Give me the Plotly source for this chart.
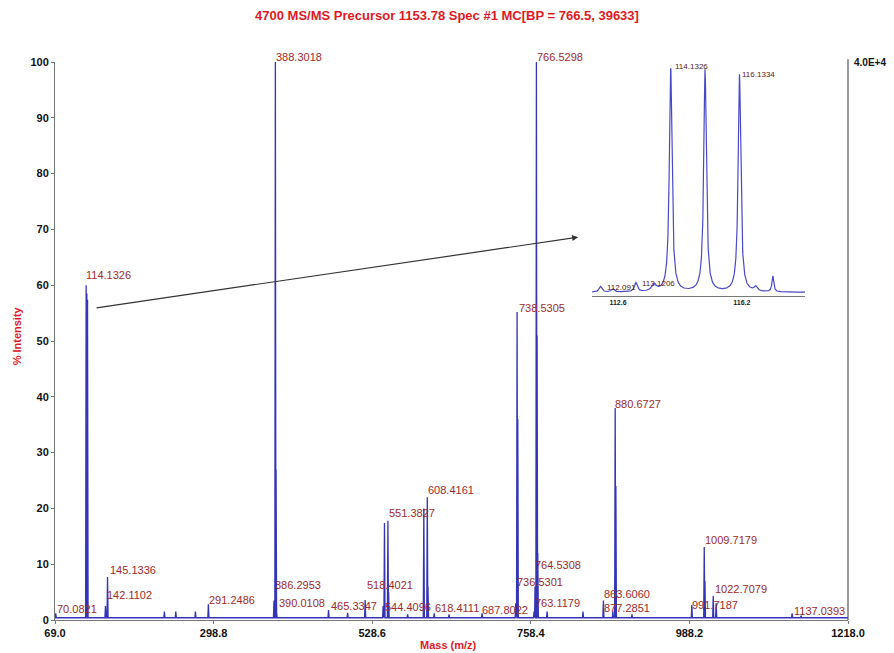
import numpy as np
import plotly.graph_objects as go

# ---------------- data ----------------
title_text = "4700 MS/MS Precursor 1153.78 Spec #1 MC[BP = 766.5, 39633]"

main_mz = [70.08, 114.13, 115.13, 116.13, 142.11, 145.13, 227.5, 244.0, 272.5, 291.25,
           386.30, 388.30, 389.30, 390.01, 465.33, 493.0, 518.40, 544.41, 546.4, 551.38,
           552.38, 580.0, 603.4, 608.42, 609.42, 618.41, 640.0, 687.80, 736.53, 738.53,
           739.53, 763.12, 764.53, 766.53, 767.53, 768.53, 782.0, 834.0, 863.61, 877.29,
           880.67, 881.67, 905.0, 991.72, 1009.72, 1010.72, 1022.71, 1027.0, 1137.04, 1150.0]
main_int = [1.2, 60, 58.5, 57.4, 2.5, 7.7, 1.5, 1.5, 1.5, 2.8,
            3.5, 100, 27, 1.5, 1.8, 1.3, 3.6, 2.5, 17.4, 17.8,
            5, 1, 20, 22, 6, 1.2, 1, 1.2, 3, 55.2,
            36, 1.5, 6, 100, 51, 12, 1.5, 1.5, 3.5, 1.5,
            38, 24, 1, 2.7, 13.1, 7, 4.3, 3, 1.2, 0.8]

# peak labels: text, anchor m/z (left edge), anchor % intensity (vertical centre)
label_text = ["388.3018", "766.5298", "114.1326", "738.5305", "880.6727", "608.4161",
              "551.3827", "1009.7179", "145.1336", "764.5308", "1022.7079", "386.2953",
              "518.4021", "736.5301", "863.6060", "142.1102", "291.2486", "390.0108",
              "465.3347", "544.4096", "618.4111", "687.8022", "763.1179", "877.2851",
              "991.7187", "1137.0393", "70.0821"]
label_x = [386.3, 764.6, 111.0, 738.5, 877.6, 606.6,
           550.0, 1008.0, 145.8, 761.6, 1022.5, 384.9,
           518.2, 735.6, 861.6, 141.5, 289.3, 390.7,
           466.0, 544.3, 616.7, 684.9, 761.6, 861.6,
           989.2, 1137.0, 69.5]
label_y = [100.9, 100.9, 61.8, 55.9, 38.7, 23.3,
           19.2, 14.3, 9.0, 9.9, 5.6, 6.3,
           6.3, 6.8, 4.7, 4.5, 3.6, 3.0,
           2.5, 2.3, 2.2, 1.8, 3.0, 2.2,
           2.7, 1.6, 2.0]

x_tickvals = [69.0, 298.8, 528.6, 758.4, 988.2, 1218.0]
y_tickvals = [0, 10, 20, 30, 40, 50, 60, 70, 80, 90, 100]

# inset (zoom on 112-118)
inset_mz = [112.09, 112.45, 113.12, 113.65, 114.13, 115.13, 116.13, 116.6, 117.1]
inset_int = [2.5, 1.5, 4.0, 3.0, 100, 97.8, 95.6, 2.0, 7.0]
inset_width = [0.05, 0.05, 0.05, 0.08, 0.045, 0.045, 0.045, 0.05, 0.03]
inset_labels = ["114.1326", "116.1334", "112.091", "113.1206"]
inset_label_x = [114.2, 116.15, 112.22, 113.24]
inset_label_y = [100.9, 97.4, 3.5, 5.3]
inset_ticks = [112.6, 116.2]

# arrow from main peak to inset (m/z, %)
arrow_tail = (127.0, 55.9)
arrow_head = (827.0, 68.6)

# ---------------- build ----------------
BASE = 0.4
HALF_W = 0.8
PX_PER_PCT_MAIN = 5.58
PX_PER_PCT_INSET = 2.28
xs, ys = [69.0], [BASE]
for m, h in sorted(zip(main_mz, main_int)):
    xs += [m - HALF_W, m, m + HALF_W]
    ys += [BASE, h, BASE]
xs.append(1218.0)
ys.append(BASE)

gx = np.linspace(111.84, 118.04, 1500)
gy = np.full_like(gx, 1.5)
for m, h, w in zip(inset_mz, inset_int, inset_width):
    gy = gy + h * w ** 2 / ((gx - m) ** 2 + w ** 2)

LINE_BLUE = "#3434B8"
LABEL_RED = "#9E2A2B"
TITLE_RED = "#E0191F"

fig = go.Figure()
fig.add_trace(go.Scatter(x=xs, y=ys, mode="lines",
                         line=dict(color=LINE_BLUE, width=1.3),
                         hoverinfo="skip", showlegend=False))
fig.add_trace(go.Scatter(x=gx, y=gy, mode="lines", xaxis="x2", yaxis="y2",
                         line=dict(color="#4848C8", width=1.2),
                         hoverinfo="skip", showlegend=False))

annotations = []
for t, lx, ly in zip(label_text, label_x, label_y):
    annotations.append(dict(x=lx, y=min(ly, 100), yshift=max(ly - 100, 0) * PX_PER_PCT_MAIN,
                            xref="x", yref="y", text=t, showarrow=False,
                            xanchor="left", yanchor="middle",
                            font=dict(family="Arial", size=11, color=LABEL_RED)))
for t, lx, ly in zip(inset_labels, inset_label_x, inset_label_y):
    annotations.append(dict(x=lx, y=min(ly, 100), yshift=max(ly - 100, 0) * PX_PER_PCT_INSET,
                            xref="x2", yref="y2", text=t, showarrow=False,
                            xanchor="left", yanchor="middle",
                            font=dict(family="Arial", size=8, color="#5a2020")))
annotations.append(dict(x=arrow_head[0], y=arrow_head[1], ax=arrow_tail[0], ay=arrow_tail[1],
                        xref="x", yref="y", axref="x", ayref="y", text="",
                        showarrow=True, arrowhead=2, arrowsize=1, arrowwidth=1.2,
                        arrowcolor="#333333"))
annotations.append(dict(x=1.0, y=1.0, xref="paper", yref="paper", text="<b>4.0E+4</b>",
                        showarrow=False, xanchor="left", yanchor="middle", xshift=4,
                        font=dict(family="Arial", size=10, color="#111111")))
annotations.append(dict(x=-0.048, y=0.51, xref="paper", yref="paper", text="<b>% Intensity</b>",
                        textangle=-90, showarrow=False, xanchor="center", yanchor="middle",
                        font=dict(family="Arial", size=11, color=TITLE_RED)))
annotations.append(dict(x=0.496, y=-0.045, xref="paper", yref="paper", text="<b>Mass (m/z)</b>",
                        showarrow=False, xanchor="center", yanchor="middle",
                        font=dict(family="Arial", size=11, color=TITLE_RED)))

fig.update_layout(
    width=894, height=653,
    margin=dict(l=55, r=46, t=62, b=33),
    paper_bgcolor="white", plot_bgcolor="white",
    title=dict(text="<b>" + title_text + "</b>", x=0.5, xanchor="center",
               y=1 - 15 / 653, yanchor="middle",
               font=dict(family="Arial", size=13, color=TITLE_RED)),
    xaxis=dict(range=[69.0, 1218.0], tickvals=x_tickvals,
               ticktext=["%.1f" % v for v in x_tickvals],
               showgrid=False, zeroline=False, showline=True, linecolor="#777777",
               linewidth=1, ticks="outside", ticklen=3, tickcolor="#777777",
               tickfont=dict(family="Arial", size=11, color="#111111", weight="bold")),
    yaxis=dict(range=[0, 100], tickvals=y_tickvals,
               showgrid=False, zeroline=False, showline=True, linecolor="#777777",
               linewidth=1, ticks="outside", ticklen=3, tickcolor="#777777",
               tickfont=dict(family="Arial", size=11, color="#111111", weight="bold")),
    xaxis2=dict(domain=[0.677, 0.946], anchor="y2", range=[111.84, 118.04],
                tickvals=inset_ticks, ticktext=["%.1f" % v for v in inset_ticks],
                showgrid=False, zeroline=False, showline=True, linecolor="#777777",
                linewidth=1, ticks="", ticklabelstandoff=0,
                tickfont=dict(family="Arial", size=7, color="#222222", weight="bold")),
    yaxis2=dict(domain=[0.581, 0.989], anchor="x2", range=[0, 100], visible=False),
    annotations=annotations,
    shapes=[dict(type="line", xref="paper", yref="paper", x0=1, x1=1, y0=0, y1=1.005,
                 line=dict(color="#555555", width=1.2))],
)

fig.write_html("out.html")
